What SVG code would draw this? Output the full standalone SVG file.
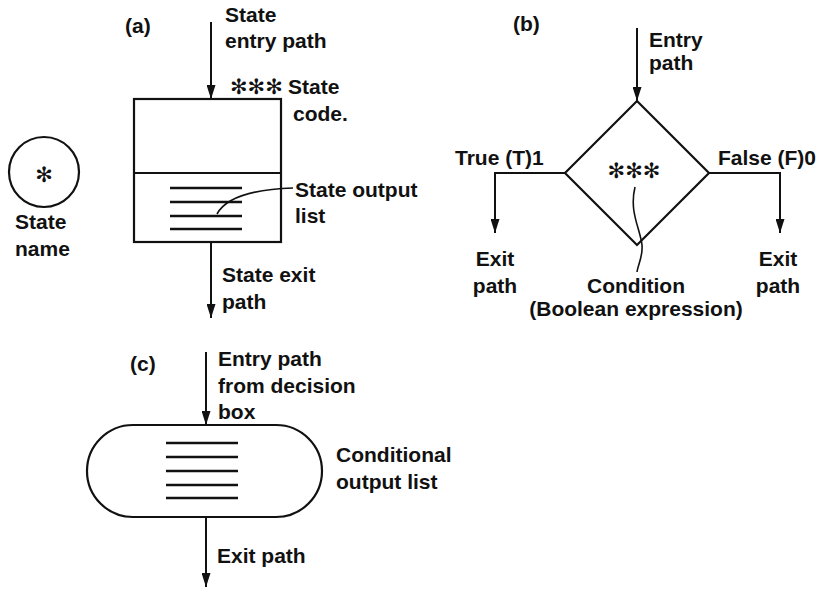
<svg xmlns="http://www.w3.org/2000/svg" width="816" height="589" viewBox="0 0 816 589">
  <style>
    text { font-family: "Liberation Sans", Arial, sans-serif; font-size: 21px; font-weight: bold; fill: #111; }
    .sym { font-family: "DejaVu Sans", sans-serif; font-weight: normal; }
    .shape { fill: none; stroke: #111; stroke-width: 2.2; }
    .line { fill: none; stroke: #111; stroke-width: 2.4; }
    .conn { fill: none; stroke: #111; stroke-width: 2; }
    .lead { fill: none; stroke: #111; stroke-width: 1.6; }
  </style>
  <defs>
    <marker id="arr" markerUnits="userSpaceOnUse" markerWidth="14" markerHeight="9" refX="14" refY="4.5" orient="auto">
      <path d="M0,0 L14,4.5 L0,9 z" fill="#111"/>
    </marker>
  </defs>
  <rect width="816" height="589" fill="#fff"/>

  <!-- State name circle -->
  <g id="state-name">
    <circle class="shape" cx="44" cy="172" r="35"/>
    <text class="sym" x="44" y="182" text-anchor="middle" font-size="25">✻</text>
    <text x="15" y="229">State</text>
    <text x="15" y="256">name</text>
  </g>

  <!-- (a) state box -->
  <g id="state-box">
    <text x="125" y="33">(a)</text>
    <rect class="shape" x="134" y="99" width="147" height="143"/>
    <line class="shape" x1="134" y1="173" x2="281" y2="173"/>
    <line class="line" x1="170" y1="188" x2="242" y2="188"/>
    <line class="line" x1="170" y1="202" x2="242" y2="202"/>
    <line class="line" x1="170" y1="216" x2="242" y2="216"/>
    <line class="line" x1="170" y1="229" x2="242" y2="229"/>
    <path class="lead" d="M217,214 Q230,190 293,188"/>
    <text x="225" y="22">State</text>
    <text x="225" y="48">entry path</text>
    <text class="sym" x="230" y="94" font-size="18">✻✻✻</text>
    <text x="288" y="94">State</text>
    <text x="293" y="121">code.</text>
    <text x="295" y="197">State output</text>
    <text x="295" y="223">list</text>
    <text x="222" y="282">State exit</text>
    <text x="222" y="309">path</text>
  </g>

  <!-- (b) decision diamond -->
  <g id="decision">
    <text x="513" y="31">(b)</text>
    <polygon class="shape" points="637,101 709,173 637,245 565,173"/>
    <text class="sym" x="634" y="178" text-anchor="middle" font-size="18">✻✻✻</text>
    <path class="lead" d="M635,187 C629,212 640,228 642,245 C643,257 638,264 637,272"/>
    <text x="649" y="47">Entry</text>
    <text x="649" y="70">path</text>
    <text x="455" y="165">True (T)1</text>
    <text x="718" y="165">False (F)0</text>
    <text x="495" y="266" text-anchor="middle">Exit</text>
    <text x="495" y="293" text-anchor="middle">path</text>
    <text x="778" y="266" text-anchor="middle">Exit</text>
    <text x="778" y="293" text-anchor="middle">path</text>
    <text x="636" y="293" text-anchor="middle">Condition</text>
    <text x="636" y="316" text-anchor="middle">(Boolean expression)</text>
  </g>

  <!-- (c) conditional output -->
  <g id="conditional-output">
    <text x="130" y="371">(c)</text>
    <rect class="shape" x="87" y="425" width="235" height="92" rx="46" ry="46"/>
    <line class="line" x1="166" y1="443" x2="238" y2="443"/>
    <line class="line" x1="166" y1="457" x2="238" y2="457"/>
    <line class="line" x1="166" y1="471" x2="238" y2="471"/>
    <line class="line" x1="166" y1="485" x2="238" y2="485"/>
    <line class="line" x1="166" y1="498" x2="238" y2="498"/>
    <text x="218" y="366">Entry path</text>
    <text x="218" y="393">from decision</text>
    <text x="218" y="419">box</text>
    <text x="336" y="462">Conditional</text>
    <text x="336" y="489">output list</text>
    <text x="217" y="563">Exit path</text>
  </g>

  <!-- connectors -->
  <g id="connectors">
    <line class="conn" x1="211" y1="22" x2="211" y2="99" marker-end="url(#arr)"/>
    <line class="conn" x1="211" y1="242" x2="211" y2="318" marker-end="url(#arr)"/>
    <line class="conn" x1="637" y1="28" x2="637" y2="101" marker-end="url(#arr)"/>
    <polyline class="conn" points="565,173 495,173 495,233" marker-end="url(#arr)"/>
    <polyline class="conn" points="709,173 780,173 780,233" marker-end="url(#arr)"/>
    <line class="conn" x1="206" y1="352" x2="206" y2="425" marker-end="url(#arr)"/>
    <line class="conn" x1="206" y1="517" x2="206" y2="587" marker-end="url(#arr)"/>
  </g>
</svg>
